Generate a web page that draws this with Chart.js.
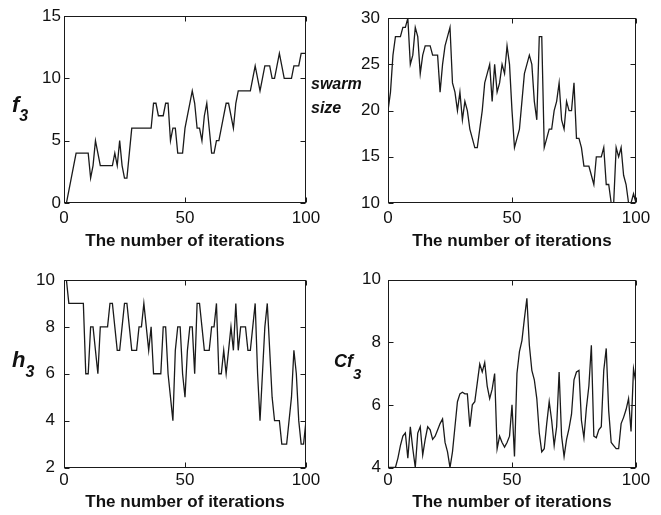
<!DOCTYPE html>
<html>
<head>
<meta charset="utf-8">
<script src="https://cdn.jsdelivr.net/npm/chart.js@4.4.1/dist/chart.umd.min.js"></script>
<style>
  html, body { margin: 0; padding: 0; background: #fff; }
  #wrap { position: relative; width: 661px; height: 515px; overflow: hidden; background: #fff; }
  canvas { position: absolute; }
  .lab { position: absolute; font-family: "Liberation Sans", Arial, sans-serif; font-weight: bold;
         font-style: italic; color: #111; line-height: 1; white-space: nowrap; }
  .lab .s { position: relative; }
</style>
</head>
<body>
<div id="wrap">
  <canvas id="c1" width="330" height="257" style="left:0;top:0"></canvas>
  <canvas id="c2" width="331" height="257" style="left:330px;top:0"></canvas>
  <canvas id="c3" width="330" height="258" style="left:0;top:257px"></canvas>
  <canvas id="c4" width="331" height="258" style="left:330px;top:257px"></canvas>

  <div class="lab" style="left:12px;top:94.4px;font-size:22px">f<span class="s" style="font-size:16px;top:9px">3</span></div>
  <div class="lab" style="left:311px;top:76px;font-size:16px">swarm</div>
  <div class="lab" style="left:311px;top:99.8px;font-size:16px">size</div>
  <div class="lab" style="left:12px;top:349.4px;font-size:22px">h<span class="s" style="font-size:16px;top:10px">3</span></div>
  <div class="lab" style="left:334px;top:351.8px;font-size:18px">Cf<span class="s" style="font-size:15px;top:12px">3</span></div>
</div>

<script>
// Iteration index shared by all four panels
const iterations = Array.from({ length: 101 }, (_, i) => i);

// Series values per iteration (index 0..100)
const f3 = [null,
  0, 1, 2, 3, 4, 4, 4, 4, 4, 4,
  2, 3, 5, 4, 3, 3, 3, 3, 3, 3,
  4, 3, 5, 3, 2, 2, 4, 6, 6, 6,
  6, 6, 6, 6, 6, 6, 8, 8, 7, 7,
  7, 8, 8, 5, 6, 6, 4, 4, 4, 6,
  7, 8, 9, 8, 6, 6, 5, 7, 8, 6,
  4, 4, 5, 5, 6, 7, 8, 8, 7, 6,
  8, 9, 9, 9, 9, 9, 9, 10, 11, 10,
  9, 10, 11, 11, 11, 10, 10, 11, 12, 11,
  10, 10, 10, 10, 11, 11, 11, 12, 12, 12];

const swarmSize = [20,
  22, 26, 28, 28, 28, 29, 29, 30, 25, 26,
  29, 28, 24, 26, 27, 27, 27, 26, 26, 26,
  22, 25, 27, 28, 29, 23, 22, 20, 22, 19,
  21, 20, 18, 17, 16, 16, 18, 20, 23, 24,
  25, 21, 25, 22, 23, 25, 24, 27, 25, 20,
  16, 17, 18, 21, 24, 25, 26, 25, 21, 19,
  28, 28, 16, 17, 18, 18, 20, 21, 23, 19,
  18, 21, 20, 20, 23, 17, 17, 16, 14, 14,
  14, 13, 12, 15, 15, 15, 16, 12, 12, 10,
  10, 16, 15, 16, 13, 12, 10, 10, 11, 10];

const h3 = [10,
  10, 9, 9, 9, 9, 9, 9, 9, 6, 6,
  8, 8, 7, 6, 8, 8, 8, 8, 9, 9,
  8, 7, 7, 8, 9, 9, 8, 7, 7, 7,
  8, 8, 9, 8, 7, 8, 6, 6, 6, 6,
  8, 8, 6, 5, 4, 7, 8, 8, 6, 5,
  7, 8, 8, 6, 9, 9, 8, 7, 7, 7,
  8, 8, 9, 6, 6, 7, 6, 7, 8, 7,
  9, 7, 8, 8, 8, 7, 7, 8, 9, 6,
  4, 6, 8, 9, 7, 5, 4, 4, 4, 3,
  3, 3, 4, 5, 7, 6, 4, 3, 3, 4];

const cf3 = [4.0,
  4.0, 4.0, 4.0, 4.3, 4.7, 5.0, 5.1, 4.3, 5.3, 4.6,
  4.0, 5.1, 5.3, 4.4, 4.9, 5.3, 5.2, 4.9, 5.0, 5.2,
  5.4, 5.55, 4.8, 4.5, 4.0, 4.5, 5.3, 6.1, 6.35, 6.4,
  6.35, 6.35, 5.3, 6.0, 6.1, 6.7, 7.3, 7.05, 7.35, 6.6,
  6.2, 6.5, 7.0, 4.6, 5.0, 4.8, 4.65, 4.8, 5.0, 6.0,
  4.35, 7.0, 7.7, 8.05, 8.75, 9.4, 7.9, 7.1, 6.8, 6.2,
  5.1, 4.5, 4.6, 5.4, 6.1, 5.5, 4.7, 5.3, 7.05, 5.0,
  4.35, 4.9, 5.25, 5.7, 6.8, 7.05, 7.1, 5.5, 4.95, 5.9,
  6.6, 7.9, 5.0, 4.95, 5.2, 5.3, 7.1, 7.8, 5.8, 4.8,
  4.7, 4.6, 4.6, 5.4, 5.6, 5.85, 6.2, 5.15, 7.15, 6.7];

const xTitle = 'The number of iterations';
const FONT = '"Liberation Sans", Arial, sans-serif';
const INK = '#1a1a1a';

// Closed axes box with short inward tick marks on all four sides
const boxAndTicks = {
  id: 'boxAndTicks',
  afterDraw(chart) {
    const { ctx, chartArea: a, scales: { x, y } } = chart;
    const len = 5;
    const L = Math.round(a.left) + 0.5, R = Math.round(a.right) - 0.5;
    const T = Math.round(a.top) + 0.5, B = Math.round(a.bottom) - 0.5;
    ctx.save();
    ctx.strokeStyle = INK;
    ctx.lineWidth = 1;
    ctx.strokeRect(L, T, R - L, B - T);
    ctx.beginPath();
    x.ticks.forEach(t => {
      const px = Math.round(x.getPixelForValue(t.value)) + 0.5;
      ctx.moveTo(px, T); ctx.lineTo(px, T + len);
      ctx.moveTo(px, B); ctx.lineTo(px, B - len);
    });
    y.ticks.forEach(t => {
      const py = Math.round(y.getPixelForValue(t.value)) + 0.5;
      ctx.moveTo(L, py); ctx.lineTo(L + len, py);
      ctx.moveTo(R, py); ctx.lineTo(R - len, py);
    });
    ctx.stroke();
    ctx.restore();
  }
};

function panel(id, values, yMin, yMax, yStep, g) {
  return new Chart(document.getElementById(id), {
    type: 'line',
    data: {
      datasets: [{
        data: values.map((v, i) => ({ x: iterations[i], y: v })),
        borderColor: INK,
        borderWidth: 1.3,
        pointRadius: 0,
        tension: 0,
        fill: false
      }]
    },
    options: {
      responsive: false,
      animation: false,
      devicePixelRatio: 1,
      layout: { padding: { top: g.top, right: g.w - g.right, bottom: 0, left: 0 } },
      plugins: { legend: { display: false }, tooltip: { enabled: false } },
      scales: {
        x: {
          type: 'linear', min: 0, max: 100,
          grid: { display: false, drawTicks: false },
          border: { display: false },
          ticks: { stepSize: 50, maxRotation: 0, padding: g.xPad, color: '#111',
                   font: { family: FONT, size: 17 } },
          title: { display: true, text: xTitle, color: '#111',
                   font: { family: FONT, size: 17, weight: 'bold' },
                   padding: { top: 0, bottom: g.titlePad } },
          afterFit: s => { s.height = g.h - g.bottom; }
        },
        y: {
          min: yMin, max: yMax,
          grid: { display: false, drawTicks: false },
          border: { display: false },
          ticks: { stepSize: yStep, padding: g.yPad, color: '#111',
                   font: { family: FONT, size: 17 } },
          afterFit: s => { s.width = g.left; }
        }
      }
    },
    plugins: [boxAndTicks]
  });
}

panel('c1', f3, 0, 15, 5,
  { w: 330, h: 257, left: 64, top: 16, right: 306, bottom: 203, yPad: 3, xPad: 5, titlePad: 5 });
panel('c2', swarmSize, 10, 30, 5,
  { w: 331, h: 257, left: 58, top: 16, right: 306, bottom: 203, yPad: 8, xPad: 5, titlePad: 5 });
panel('c3', h3, 2, 10, 2,
  { w: 330, h: 258, left: 64, top: 23, right: 306, bottom: 210.5, yPad: 9, xPad: 2.5, titlePad: 2 });
panel('c4', cf3, 4, 10, 2,
  { w: 331, h: 258, left: 58, top: 22.5, right: 306, bottom: 210.5, yPad: 7, xPad: 2.5, titlePad: 2 });
</script>
</body>
</html>
